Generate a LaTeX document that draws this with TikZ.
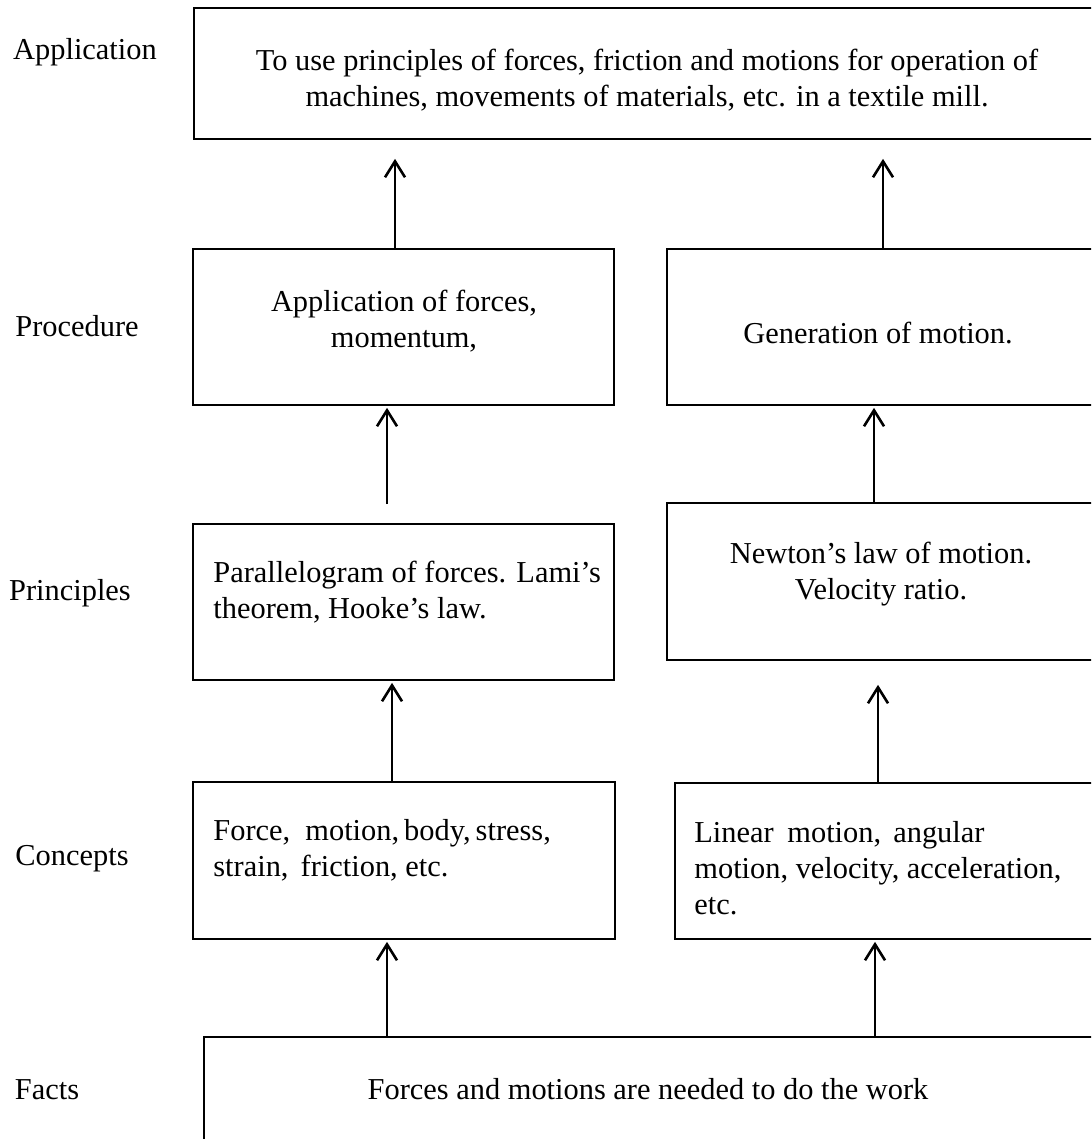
\documentclass[tikz,border=0pt]{standalone}
\usepackage{fontspec}
\setmainfont{Liberation Serif}
\usetikzlibrary{arrows.meta,fit}

\begin{document}
\begin{tikzpicture}[
    x=0.5pt, y=-0.5pt,
    % box styles
    stagebox/.style={draw=black, line width=0.85pt, inner sep=0pt},
    uparrow/.style={line width=1.3pt, -{Straight Barb[length=8pt, width=10pt, line width=1.3pt]}},
    % text styles
    boxtext/.style={font=\fontsize{15.2}{18}\selectfont, inner sep=0pt, align=center},
    lefttext/.style={font=\fontsize{15.2}{18}\selectfont, inner sep=0pt, align=left, anchor=west},
    leveltext/.style={font=\fontsize{15.2}{18}\selectfont, inner sep=0pt}
]
\useasboundingbox (0,0) rectangle (1091,1139);
\clip (0,0) rectangle (1091,1139);

% --- LEVEL NAMES ---
\node[leveltext] (lvlApp) at (85,52) {Application};
\node[leveltext] (lvlProc) at (77,326) {Procedure};
\node[leveltext] (lvlPrinc) at (70,593) {Principles};
\node[leveltext] (lvlConc) at (72,859) {Concepts};
\node[leveltext] (lvlFacts) at (47,1090) {Facts};

% --- APPLICATION ---
\node[stagebox, fit={(194,8) (1150,139)}] (app) {};
\node[boxtext] (appTxt) at (647,80) {To use principles of forces, friction and motions for operation of\\machines, movements of materials, etc. in a textile mill.};

% --- PROCEDURE ---
\node[stagebox, fit={(193,249) (614,405)}] (procL) {};
\node[boxtext] (procLTxt) at (404,321) {Application of forces,\\momentum,};
\node[stagebox, fit={(667,249) (1150,405)}] (procR) {};
\node[boxtext] (procRTxt) at (878,333) {Generation of motion.};

% --- PRINCIPLES ---
\node[stagebox, fit={(193,524) (614,680)}] (princL) {};
\node[lefttext] (princLTxt) at (213,592) {Parallelogram of forces. Lami’s\\theorem, Hooke’s law.};
\node[stagebox, fit={(667,503) (1150,660)}] (princR) {};
\node[boxtext] (princRTxt) at (881,574) {Newton’s law of motion.\\Velocity ratio.};

% --- CONCEPTS ---
\node[stagebox, fit={(193,782) (615,939)}] (concL) {};
\node[lefttext] (concLTxt) at (213,850) {Force,~ motion,\,body,\,stress,\\strain,\hspace{0.4em}friction, etc.};
\node[stagebox, fit={(675,783) (1150,939)}] (concR) {};
\node[lefttext] (concRTxt) at (694,868) {Linear\hspace{0.45em}motion,\hspace{0.4em}angular\\motion, velocity, acceleration,\\etc.};

% --- FACTS ---
\node[stagebox, fit={(204,1037) (1150,1200)}] (facts) {};
\node[boxtext] (factsTxt) at (648,1089) {Forces and motions are needed to do the work};

% --- ARROWS ---
\draw[uparrow, shorten >=9.5pt] (procL.north -| 395,0) -- (app.south -| 395,0);
\draw[uparrow, shorten >=9.5pt] (procR.north -| 883,0) -- (app.south -| 883,0);
\draw[uparrow, shorten <=9.5pt, shorten >=1pt] (princL.north -| 387,0) -- (procL.south -| 387,0);
\draw[uparrow, shorten >=1pt] (princR.north -| 874,0) -- (procR.south -| 874,0);
\draw[uparrow, shorten >=1pt] (concL.north -| 392,0) -- (princL.south -| 392,0);
\draw[uparrow, shorten >=12pt] (concR.north -| 878,0) -- (princR.south -| 878,0);
\draw[uparrow, shorten >=1pt] (facts.north -| 387,0) -- (concL.south -| 387,0);
\draw[uparrow, shorten >=1pt] (facts.north -| 875,0) -- (concR.south -| 875,0);

\end{tikzpicture}
\end{document}
